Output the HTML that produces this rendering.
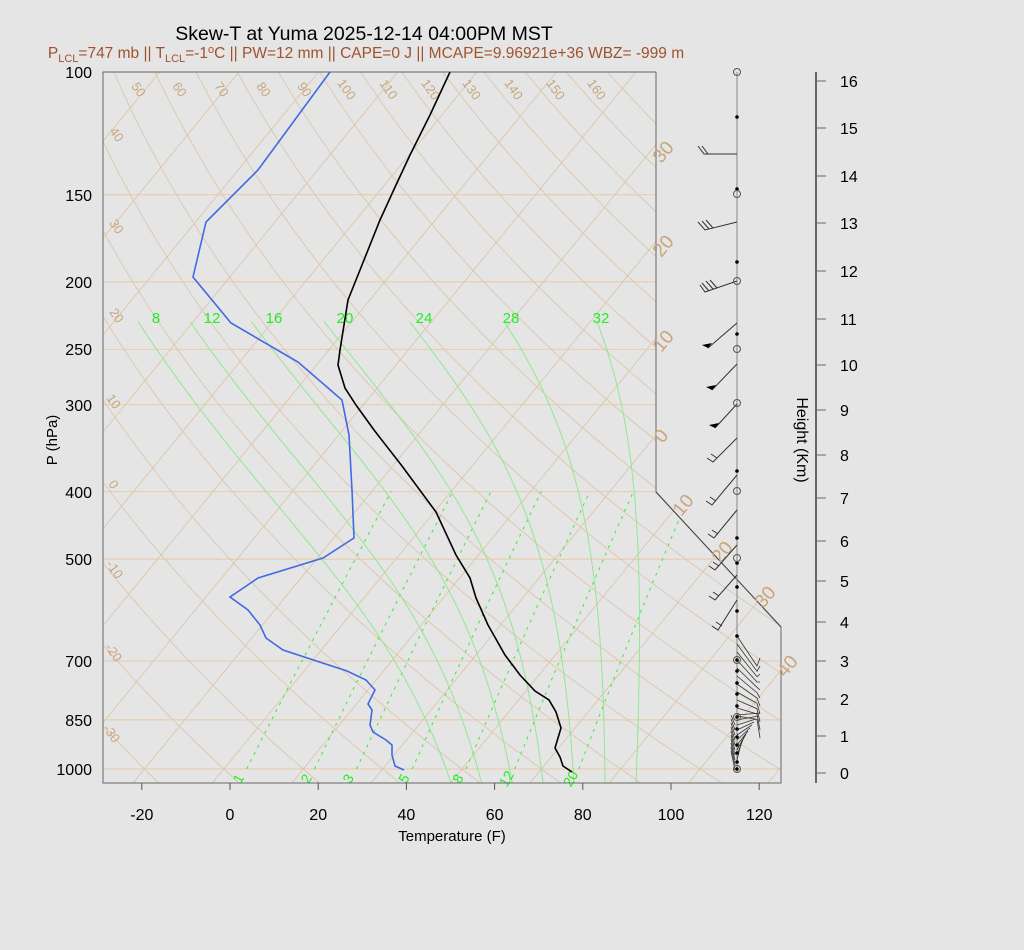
<!DOCTYPE html>
<html><head><meta charset="utf-8"><style>
html,body{margin:0;padding:0;background:#e5e5e5;}
svg{display:block;font-family:"Liberation Sans",sans-serif;}
</style></head><body>
<svg id="s" width="1024" height="950" xmlns="http://www.w3.org/2000/svg">
<rect width="1024" height="950" fill="#e5e5e5"/>
<defs><clipPath id="cp"><polygon points="103,72 656,72 656,492 781,627 781,783 103,783"/></clipPath></defs>
<g id="grid" clip-path="url(#cp)"></g>
<g id="rest"></g>
</svg>
<script>
function Y(p){return 72+697*Math.log10(p/100);}
function X(T,p){return 230+(T*1.8+32)*4.41+0.819*(783-Y(p));}
var g=document.getElementById('grid'),r=document.getElementById('rest');
var G='',R='';
function pl(pts,st){return '<polyline fill="none" points="'+pts.map(function(a){return a[0].toFixed(1)+','+a[1].toFixed(1)}).join(' ')+'" '+st+'/>';}
var tan='stroke="#dcc6aa" stroke-width="0.9"';
[100,150,200,250,300,400,500,700,850,1000].forEach(function(p){G+=pl([[103,Y(p)],[781,Y(p)]],'stroke="#e8d0b4" stroke-width="1.3"');});
for(var T=-130;T<=60;T+=10){G+=pl([[X(T,1050),Y(1050)],[X(T,100),Y(100)]],tan);}
for(var th=-30;th<=170;th+=10){var a=[];for(var p=1050;p>=100;p-=10){var t=(th+273.15)*Math.pow(p/1000,0.2857)-273.15;a.push([X(t,p),Y(p)]);}G+=pl(a,tan);}
function es(t){return 6.112*Math.exp(17.67*t/(t+243.5));}
function tdFromE(e){var l=Math.log(e/6.112);return 243.5*l/(17.67-l);}
[1,2,3,5,8,12,20].forEach(function(w){var a=[];for(var p=1000;p>=400;p-=10){var e=w*p/(622+w);a.push([X(tdFromE(e),p),Y(p)]);}G+=pl(a,'stroke="#33ee33" stroke-width="1" stroke-dasharray="3,5"');
var x0=X(tdFromE(w*1000/(622+w)),1000);R+='<text x="'+(x0-4)+'" y="781" font-size="14" fill="#22ee22" transform="rotate(-60 '+(x0-4)+' 781)" text-anchor="middle">'+w+'</text>';});
function dTdp(T,p){var Tk=T+273.15,rs=0.622*es(T)/(p-es(T)),Lv=2.5e6,Rd=287,cp=1004;return (Rd*Tk+Lv*rs)/(p*(cp+Lv*Lv*rs*0.622/(Rd*Tk*Tk)));}
var lx={8:156,12:212,16:274,20:345,24:424,28:511,32:601};
[8,12,16,20,24,28,32].forEach(function(tw){var T=tw,p=1000,a=[];
var T2=tw,pp=1000;for(var k=0;k<50;k++){T2+=dTdp(T2,pp)*1;pp+=1;}a.push([X(T2,1050),Y(1050)]);
while(p>229){a.push([X(T,p),Y(p)]);var h=-2;var k1=dTdp(T,p),k2=dTdp(T+k1*h/2,p+h/2),k3=dTdp(T+k2*h/2,p+h/2),k4=dTdp(T+k3*h,p+h);T+=h*(k1+2*k2+2*k3+k4)/6;p+=h;}
a.push([X(T,p),Y(p)]);G+=pl(a,'stroke="#90e890" stroke-width="1"');
R+='<text x="'+lx[tw]+'" y="323" font-size="15" fill="#22ee22" text-anchor="middle">'+tw+'</text>';});
g.innerHTML=G;
R+='<polyline fill="none" stroke="#666" stroke-width="1" points="656,72 656,492 781,627 781,783 103,783 103,72 656,72"/>';
R+='<line x1="656" y1="492" x2="781" y2="627" stroke="#444"/>';
function tl(t,x,y,rot,fs){return '<text x="'+x+'" y="'+y+'" font-size="'+fs+'" fill="#c9a57d" transform="rotate('+rot+' '+x+' '+y+')" text-anchor="middle">'+t+'</text>';}
[[50,135],[60,176],[70,218],[80,260],[90,301],[100,343],[110,385],[120,427],[130,468],[140,510],[150,552],[160,593]].forEach(function(a){R+=tl(a[0],a[1],92,55,13);});
[[40,113,137],[30,113,229],[20,113,318],[10,110,404],[0,110,487],['-10',111,572],['-20',110,655],['-30',108,736]].forEach(function(a){R+=tl(a[0],a[1],a[2],55,13);});
[[30,668,156],[20,668,250],[10,668,345],[0,666,440],[10,688,509],[20,727,556],[30,770,601],[40,792,670]].forEach(function(a){R+=tl(a[0],a[1],a[2],-50,19);});
var tp=[[572,772],[563,766],[560,757],[555,748],[558,738],[561,728],[556,712],[549,700],[535,691],[520,675],[505,655],[488,625],[476,598],[470,578],[456,555],[436,512],[402,466],[374,430],[356,405],[345,388],[338,365],[340,350],[348,300],[362,265],[380,220],[396,185],[410,155],[430,115],[450,72]];
var dp=[[404,770],[395,766],[392,755],[392,745],[386,740],[373,732],[370,725],[372,710],[368,704],[375,690],[366,680],[347,671],[283,650],[266,638],[260,625],[248,610],[230,597],[258,578],[323,558],[354,538],[352,490],[349,435],[342,400],[298,362],[231,323],[193,277],[206,222],[258,170],[330,72]];
R+=pl(tp,'stroke="#000" stroke-width="1.6"');R+=pl(dp,'stroke="#4169e1" stroke-width="1.6"');
[[100,72],[150,195],[200,282],[250,349],[300,405],[400,492],[500,559],[700,661],[850,720],[1000,769]].forEach(function(a){R+='<text x="92" y="'+(a[1]+6)+'" font-size="16" text-anchor="end">'+a[0]+'</text>';});
R+='<text x="57" y="440" font-size="15" text-anchor="middle" transform="rotate(-90 57 440)">P (hPa)</text>';
[-20,0,20,40,60,80,100,120].forEach(function(f){var x=230+f*4.41;R+='<line x1="'+x+'" y1="783" x2="'+x+'" y2="790" stroke="#555"/><text x="'+x+'" y="820" font-size="16" text-anchor="middle">'+f+'</text>';});
R+='<text x="452" y="841" font-size="15" text-anchor="middle">Temperature (F)</text>';
R+='<line x1="816" y1="72" x2="816" y2="783" stroke="#666" stroke-width="2"/>';
[773,736,699,661,622,581,541,498,455,410,365,319,271,223,176,128,81].forEach(function(y,i){R+='<line x1="816" y1="'+y+'" x2="826" y2="'+y+'" stroke="#666"/><text x="840" y="'+(y+6)+'" font-size="16">'+i+'</text>';});
R+='<text x="797" y="440" font-size="16" text-anchor="middle" transform="rotate(90 797 440)">Height (Km)</text>';
R+='<text x="364" y="40" font-size="19.5" text-anchor="middle">Skew-T at Yuma 2025-12-14 04:00PM MST</text>';
R+='<text x="366" y="58" font-size="15.5" fill="#a0522d" text-anchor="middle">P<tspan font-size="11" dy="4">LCL</tspan><tspan dy="-4">=747 mb || T</tspan><tspan font-size="11" dy="4">LCL</tspan><tspan dy="-4">=-1</tspan><tspan font-size="11" dy="-5">o</tspan><tspan dy="5">C || PW=12 mm || CAPE=0 J || MCAPE=9.96921e+36 WBZ= -999 m</tspan></text>';
R+='<line x1="737" y1="72" x2="737" y2="772" stroke="#888"/>';
var bl='stroke="#333" stroke-width="1"';
R+=pl([[737,154],[704,154],[698,146]],bl)+pl([[708,154],[702,146]],bl);
R+=pl([[737,222],[705,230],[698,222]],bl)+pl([[709,229],[702,221]],bl)+pl([[713,228],[706,220]],bl);
R+=pl([[737,281],[705,292],[700,285]],bl)+pl([[709,291],[702,283]],bl)+pl([[713,289],[706,281]],bl)+pl([[717,288],[710,280]],bl);
[[323,708,348],[364,712,390],[404,715,428]].forEach(function(b){R+=pl([[737,b[0]],[b[1],b[2]]],bl)+'<polygon points="'+b[1]+','+b[2]+' '+(b[1]-6)+','+(b[2]-3)+' '+(b[1]+4)+','+(b[2]-5)+'" fill="#000"/>';});
[[438,713,462],[475,712,505],[510,714,538],[545,715,570],[575,715,600],[600,718,630]].forEach(function(b){R+=pl([[737,b[0]],[b[1],b[2]],[b[1]-6,b[2]-4]],bl)+pl([[b[1]+4,b[2]-4],[b[1]-2,b[2]-8]],bl);});
for(var y=636;y<=720;y+=8){R+=pl([[737,y],[757,y+30-((y-636)/3)],[760,y+22]],'stroke="#333" stroke-width="0.8"');}
for(var i=0;i<10;i++){R+=pl([[737,715+i*5],[760-i*2,713+i*3]],'stroke="#333" stroke-width="0.8"');R+=pl([[735,725+i*5],[731,715+i*4]],'stroke="#333" stroke-width="0.8"');}
[117,189,262,334,471,538,563,587,611,636,660,671,683,694,706,717,729,737,745,753,762,769].forEach(function(y){R+='<circle cx="737" cy="'+y+'" r="1.8" fill="#000"/>';});
[72,194,281,349,403,491,558,660,717,769].forEach(function(y){R+='<circle cx="737" cy="'+y+'" r="3.5" fill="none" stroke="#555"/>';});
r.innerHTML=R;
</script>
</body></html>
